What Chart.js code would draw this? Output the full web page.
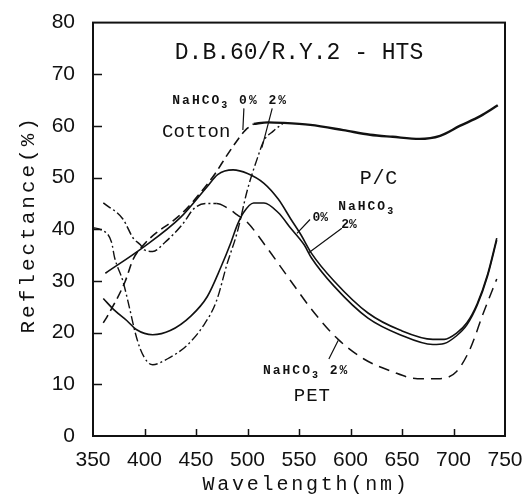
<!DOCTYPE html>
<html>
<head>
<meta charset="utf-8">
<title>D.B.60/R.Y.2 - HTS reflectance</title>
<script src="https://cdn.jsdelivr.net/npm/chart.js@4.4.1/dist/chart.umd.min.js"></script>
<style>
  html, body { margin: 0; padding: 0; background: #fff; }
  #wrap { width: 529px; height: 502px; }
</style>
</head>
<body>
<div id="wrap"><canvas id="reflectanceChart" width="529" height="502"></canvas></div>
<script>
// Axis ticks
const xTicks = [350, 400, 450, 500, 550, 600, 650, 700, 750];
const yTicks = [0, 10, 20, 30, 40, 50, 60, 70, 80];

// Cotton, NaHCO3 0% (dashed, rises into the shared plateau)
const cotton0Nm = [360, 364, 381, 389, 401, 412, 428, 441, 454, 468, 480, 490, 498, 506];
const cotton0Val = [21.9, 23.2, 29.8, 34.2, 37.4, 39.4, 41.7, 44, 47, 50.6, 54.3, 57.2, 59.2, 60.4];

// Cotton, NaHCO3 2% (dash-dot)
const cotton2Nm = [350, 358, 368, 371, 379, 386, 391, 396, 403, 408, 422, 441, 457, 470, 480, 490, 500, 510, 516, 525, 535];
const cotton2Val = [40.3, 39.9, 37.5, 34.5, 30, 24.3, 20, 16.8, 14.3, 13.8, 14.9, 17.5, 21.3, 26.2, 33.2, 39.4, 47.7, 54, 57.2, 59, 60.6];

// Cotton, both curves together above ~510 nm
const cottonNm = [506, 520, 534, 561, 593, 619, 641, 667, 687, 706, 726, 743];
const cottonVal = [60.4, 60.7, 60.6, 60.2, 59.2, 58.3, 57.9, 57.5, 58.1, 60, 61.9, 64];

// P/C, NaHCO3 0%
const pc0Nm = [362, 398, 435, 461, 471, 486, 500, 516, 530, 542, 552, 562, 584, 617, 648, 680, 691, 703, 713, 723, 733, 742];
const pc0Val = [31.5, 36.4, 42.3, 48.3, 50.6, 51.5, 50.8, 48.9, 45.8, 42, 38.9, 35.4, 30, 23.8, 20.5, 18.7, 18.7, 19.9, 21.9, 25.6, 31.2, 38.3];

// P/C, NaHCO3 2%
const pc2Nm = [360, 371, 383, 392, 408, 425, 445, 461, 474, 484, 490, 496, 506, 516, 530, 542, 555, 562, 584, 617, 648, 680, 691, 703, 713, 723, 733, 742];
const pc2Val = [26.6, 24.3, 22.3, 20.6, 19.6, 20.4, 23.2, 27, 32.6, 37.5, 40.8, 43.2, 45.1, 45.1, 43.2, 40.2, 37, 34.5, 29, 22.8, 19.6, 17.7, 17.9, 19.4, 21.5, 25.3, 30.9, 37.9];

// PET, NaHCO3 2%
const pet2Nm = [360, 379, 389, 396, 400, 408, 420, 437, 448, 460, 470, 480, 490, 500, 519, 542, 565, 588, 613, 640, 665, 687, 703, 716, 729, 742];
const pet2Val = [45.1, 42, 38.3, 37, 36, 35.7, 37.5, 41, 44, 45, 45, 44.2, 42.8, 41.3, 36.4, 30, 23.8, 18.7, 14.9, 12.5, 11.1, 11.1, 12.5, 16.8, 23.8, 30.4];

const INK = '#111';
const MONO = '"Liberation Mono", "DejaVu Sans Mono", monospace';

function toPoints(xs, ys) {
  return xs.map((x, i) => ({ x, y: ys[i] }));
}

function curve(label, xs, ys, width, dash) {
  return {
    label,
    data: toPoints(xs, ys),
    borderColor: INK,
    borderWidth: width,
    borderDash: dash,
    pointRadius: 0,
    fill: false,
    cubicInterpolationMode: 'monotone',
  };
}

// Labels and leader lines placed in data units (nm, %)
const notes = [
  { at: [550, 74.2], text: [['D.B.60/R.Y.2 - HTS']], size: 23, align: 'center' },
  { at: [427, 64.9], text: [['NaHCO'], ['3', true], [' 0% 2%']], size: 13, bold: true, spacing: 2 },
  { at: [417, 58.9], text: [['Cotton']], size: 19 },
  { at: [609, 49.8], text: [['P/C']], size: 20, spacing: 0.7 },
  { at: [588, 44.3], text: [['NaHCO'], ['3', true]], size: 13, bold: true, spacing: 2 },
  { at: [563, 42.3], text: [['0%']], size: 13, bold: true },
  { at: [591, 40.9], text: [['2%']], size: 13, bold: true },
  { at: [515, 12.6], text: [['NaHCO'], ['3', true], [' 2%']], size: 13, bold: true, spacing: 2 },
  { at: [545, 7.7], text: [['PET']], size: 19, spacing: 0.9 },
];
const leaders = [
  [496.5, 63.4, 495.5, 59.2],
  [524, 63.4, 514, 55.8],
  [560.7, 41.9, 548, 39.2],
  [591.6, 40.2, 559.8, 35.5],
  [579, 14.9, 588, 18.5],
];

function drawText(ctx, parts, px, py, size, bold, spacing, align) {
  const fontFor = (s) => `${bold ? 'bold ' : ''}${s}px ${MONO}`;
  ctx.letterSpacing = (spacing || 0) + 'px';
  let total = 0;
  parts.forEach(([t, sub]) => {
    ctx.font = fontFor(sub ? Math.round(size * 0.8) : size);
    total += ctx.measureText(t).width;
  });
  let cx = align === 'center' ? px - total / 2 : px;
  ctx.textAlign = 'left';
  ctx.textBaseline = 'middle';
  parts.forEach(([t, sub]) => {
    ctx.font = fontFor(sub ? Math.round(size * 0.8) : size);
    ctx.fillText(t, cx, sub ? py + size * 0.35 : py);
    cx += ctx.measureText(t).width;
  });
  ctx.letterSpacing = '0px';
}

const framePlugin = {
  id: 'framePlugin',
  afterDraw(chart) {
    const { ctx, chartArea: a, scales: { x, y } } = chart;
    ctx.save();
    ctx.strokeStyle = INK;
    ctx.fillStyle = INK;
    ctx.lineWidth = 2;
    ctx.strokeRect(a.left, a.top, a.right - a.left, a.bottom - a.top);

    // inward tick marks
    ctx.lineWidth = 1.5;
    ctx.beginPath();
    yTicks.slice(1, -1).forEach((v) => {
      const py = Math.round(y.getPixelForValue(v)) + 0.5;
      ctx.moveTo(a.left, py);
      ctx.lineTo(a.left + 9, py);
    });
    xTicks.slice(1, -1).forEach((v) => {
      const px = Math.round(x.getPixelForValue(v)) + 0.5;
      ctx.moveTo(px, a.bottom);
      ctx.lineTo(px, a.bottom - 7);
    });
    ctx.stroke();

    // leader lines
    ctx.lineWidth = 1.2;
    ctx.beginPath();
    leaders.forEach(([x1, y1, x2, y2]) => {
      ctx.moveTo(x.getPixelForValue(x1), y.getPixelForValue(y1));
      ctx.lineTo(x.getPixelForValue(x2), y.getPixelForValue(y2));
    });
    ctx.stroke();

    notes.forEach((n) => {
      drawText(ctx, n.text, x.getPixelForValue(n.at[0]), y.getPixelForValue(n.at[1]),
        n.size, n.bold, n.spacing, n.align);
    });

    // axis titles
    drawText(ctx, [['Wavelength(nm)']], (a.left + a.right) / 2 + 7, 485, 20, false, 2.8, 'center');
    ctx.translate(28, (a.top + a.bottom) / 2 - 5);
    ctx.rotate(-Math.PI / 2);
    drawText(ctx, [['Reflectance(%)']], 0, 0, 21, false, 3, 'center');
    ctx.restore();
  },
};

const tickFont = { family: '"Liberation Sans", Arial, sans-serif', size: 21 };

new Chart(document.getElementById('reflectanceChart'), {
  type: 'line',
  data: {
    datasets: [
      curve('Cotton NaHCO3 0%', cotton0Nm, cotton0Val, 1.6, [9, 5]),
      curve('Cotton NaHCO3 2%', cotton2Nm, cotton2Val, 1.4, [9, 3, 2, 3]),
      curve('Cotton', cottonNm, cottonVal, 2.4, []),
      curve('P/C NaHCO3 0%', pc0Nm, pc0Val, 1.6, []),
      curve('P/C NaHCO3 2%', pc2Nm, pc2Val, 1.6, []),
      {
        ...curve('PET NaHCO3 2%', pet2Nm, pet2Val, 1.5, []),
        segment: {
          borderDash: (c) => (c.p1.parsed.x <= 470 ? [9, 3, 2, 3] : [11, 7]),
        },
      },
    ],
  },
  options: {
    responsive: false,
    animation: false,
    devicePixelRatio: 1,
    layout: { padding: { top: 12, right: 24, left: 0, bottom: 0 } },
    plugins: {
      legend: { display: false },
      tooltip: { enabled: false },
    },
    scales: {
      x: {
        type: 'linear',
        min: 350,
        max: 750,
        afterBuildTicks: (s) => { s.ticks = xTicks.map((v) => ({ value: v })); },
        afterFit: (s) => { s.height = 66; },
        grid: { display: false },
        border: { display: false },
        ticks: { color: INK, font: tickFont, padding: 4, maxRotation: 0, autoSkip: false },
      },
      y: {
        min: 0,
        max: 80,
        afterBuildTicks: (s) => { s.ticks = yTicks.map((v) => ({ value: v })); },
        afterFit: (s) => { s.width = 93; },
        grid: { display: false },
        border: { display: false },
        ticks: { color: INK, font: tickFont, padding: 10, autoSkip: false },
      },
    },
  },
  plugins: [framePlugin],
});
</script>
</body>
</html>
